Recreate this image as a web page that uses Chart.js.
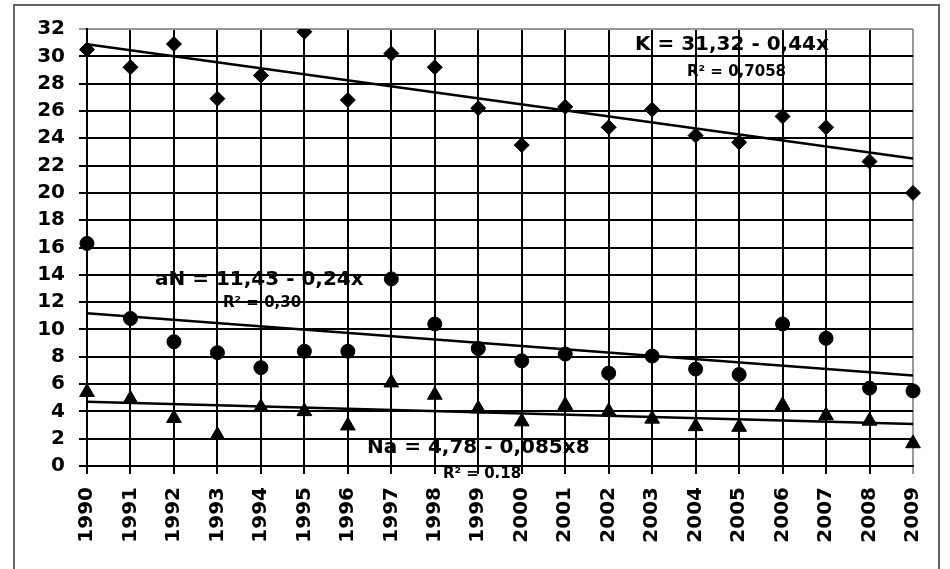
<!DOCTYPE html>
<html><head><meta charset="utf-8">
<script src="https://cdn.jsdelivr.net/npm/chart.js@4.4.0/dist/chart.umd.min.js"></script>
<style>
html,body{margin:0;padding:0;background:#fff;}
#wrap{position:relative;width:950px;height:569px;overflow:hidden;}
#frame{position:absolute;left:13px;top:4px;width:927px;height:600px;border:2px solid #666;box-sizing:border-box;}
canvas{position:absolute;left:0;top:0;}
</style></head><body>
<div id="wrap"><div id="frame"></div><canvas id="c" width="950" height="569"></canvas></div>
<script>
const years = ['1990','1991','1992','1993','1994','1995','1996','1997','1998','1999','2000','2001','2002','2003','2004','2005','2006','2007','2008','2009'];
const kValues  = [30.5, 29.2, 30.9, 26.9, 28.6, 31.8, 26.8, 30.2, 29.2, 26.2, 23.5, 26.3, 24.8, 26.1, 24.2, 23.7, 25.6, 24.8, 22.3, 20.0];
const aNValues = [16.3, 10.8, 9.1, 8.3, 7.2, 8.4, 8.4, 13.7, 10.4, 8.6, 7.7, 8.2, 6.8, 8.05, 7.1, 6.7, 10.4, 9.35, 5.7, 5.5];
const naValues = [5.4, 4.9, 3.5, 2.25, 4.3, 4.0, 2.95, 6.1, 5.2, 4.2, 3.25, 4.45, 4.0, 3.45, 2.9, 2.85, 4.45, 3.7, 3.3, 1.65];
const yTicks = [0,2,4,6,8,10,12,14,16,18,20,22,24,26,28,30,32];
const kTrend  = [30.88, 22.52];
const aNTrend = [11.19, 6.63];
const naTrend = [4.70, 3.08];
const eqK  = 'K = 31,32 - 0,44x';
const r2K  = 'R² = 0,7058';
const eqAN = 'aN = 11,43 - 0,24x';
const r2AN = 'R² = 0,30';
const eqNa = 'Na = 4,78 - 0,085x8';
const r2Na = 'R² = 0,18';

function trendData(t){
  return years.map((_, i) => i === 0 ? t[0] : (i === years.length - 1 ? t[1] : null));
}

const FONT = '"DejaVu Sans", sans-serif';

const textPlugin = {
  id: 'eqText',
  afterDatasetsDraw(chart){
    const ctx = chart.ctx;
    ctx.save();
    ctx.fillStyle = '#000';
    ctx.textAlign = 'left';
    ctx.textBaseline = 'middle';
    ctx.font = 'bold 20px ' + FONT;
    ctx.fillText(eqK, 635, 45);
    ctx.fillText(eqAN, 155, 280);
    ctx.fillText(eqNa, 367, 448);
    ctx.font = 'bold 15px ' + FONT;
    ctx.fillText(r2K, 687, 72);
    ctx.fillText(r2AN, 223, 303);
    ctx.beginPath();
    ctx.rect(0, 0, 950, 478);
    ctx.clip();
    ctx.fillText(r2Na, 443, 474);
    ctx.restore();
  }
};

const scatterStyle = (style, r) => ({
  showLine: false, pointStyle: style, pointRadius: r, pointHoverRadius: r,
  backgroundColor: '#000', borderColor: '#000', pointBorderWidth: 1
});
const trendStyle = {
  showLine: true, spanGaps: true, pointRadius: 0, pointHoverRadius: 0,
  borderColor: '#000', borderWidth: 2.5, fill: false
};

new Chart(document.getElementById('c'), {
  type: 'line',
  data: {
    labels: years,
    datasets: [
      Object.assign({label: 'K trend', data: trendData(kTrend)}, trendStyle),
      Object.assign({label: 'aN trend', data: trendData(aNTrend)}, trendStyle),
      Object.assign({label: 'Na trend', data: trendData(naTrend)}, trendStyle),
      Object.assign({label: 'K', data: kValues}, scatterStyle('rectRot', 7.5)),
      Object.assign({label: 'aN', data: aNValues}, scatterStyle('circle', 7)),
      Object.assign({label: 'Na', data: naValues}, scatterStyle('triangle', 8.5))
    ]
  },
  options: {
    responsive: false,
    animation: false,
    devicePixelRatio: 1,
    layout: {padding: {top: 29, right: 35, left: 0, bottom: 0}},
    plugins: {legend: {display: false}, tooltip: {enabled: false}},
    scales: {
      x: {
        type: 'category',
        offset: false,
        grid: {
          color: c => (c.index === years.length - 1 ? '#999' : '#000'),
          lineWidth: 2, tickLength: 8, drawTicks: true
        },
        border: {color: '#000', width: 2},
        ticks: {
          autoSkip: false, maxRotation: 90, minRotation: 90,
          color: '#000', padding: 13,
          font: {family: FONT, weight: 'bold', size: 20}
        },
        afterFit: s => { s.height = 103; }
      },
      y: {
        min: 0, max: 32,
        afterBuildTicks: s => { s.ticks = yTicks.map(v => ({value: v})); },
        grid: {
          color: c => (c.tick && c.tick.value === 32 ? '#999' : '#000'),
          lineWidth: 2, tickLength: 8, drawTicks: true
        },
        border: {color: '#000', width: 2},
        ticks: {
          color: '#000', padding: 14,
          font: {family: FONT, weight: 'bold', size: 20}
        },
        afterFit: s => { s.width = 87; }
      }
    }
  },
  plugins: [textPlugin]
});
</script>
</body></html>
